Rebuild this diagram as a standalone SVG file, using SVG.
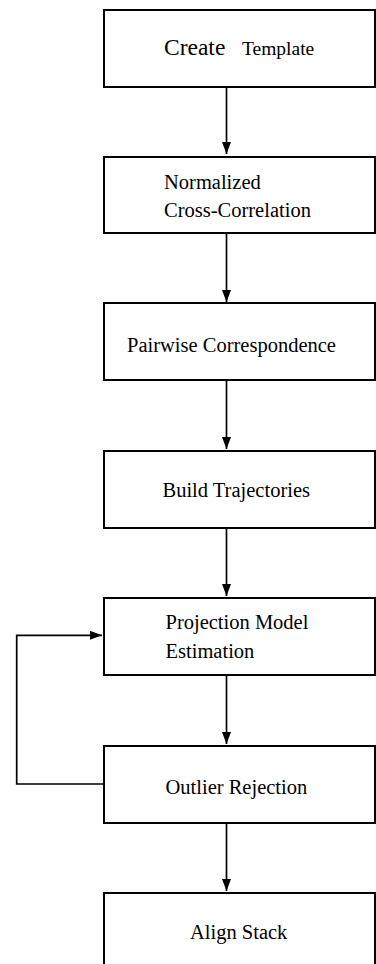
<svg xmlns="http://www.w3.org/2000/svg" width="376" height="964" viewBox="0 0 376 964">
<style>
.box{fill:#fff;stroke:#000;stroke-width:2}
.t{font-family:'Liberation Serif','Times New Roman',serif;font-size:20.5px;fill:#000}
.c{fill:none;stroke:#000;stroke-width:1.7}
</style>
<defs>
<marker id="ah" viewBox="0 0 12 9" refX="12" refY="4.5" markerWidth="12" markerHeight="9" markerUnits="userSpaceOnUse" orient="auto">
<path d="M0,0 L12,4.5 L0,9 Z" fill="#000"/>
</marker>
</defs>
<rect width="376" height="964" fill="#fff"/>
<g id="connectors">
<line class="c" x1="226.5" y1="87" x2="226.5" y2="154" marker-end="url(#ah)"/>
<line class="c" x1="226.5" y1="233" x2="226.5" y2="302" marker-end="url(#ah)"/>
<line class="c" x1="226.5" y1="380" x2="226.5" y2="449" marker-end="url(#ah)"/>
<line class="c" x1="226.5" y1="528" x2="226.5" y2="596" marker-end="url(#ah)"/>
<line class="c" x1="226.5" y1="675" x2="226.5" y2="744" marker-end="url(#ah)"/>
<line class="c" x1="226.5" y1="823" x2="226.5" y2="891" marker-end="url(#ah)"/>
<polyline class="c" points="104,784 16.7,784 16.7,635.3 102,635.3" marker-end="url(#ah)"/>
</g>
<g id="create-template">
<rect class="box" x="104" y="10" width="271" height="77"/>
<text class="t" y="55"><tspan x="164" font-size="23.5">Create</tspan><tspan x="242" font-size="19.5">Template</tspan></text>
</g>
<g id="ncc">
<rect class="box" x="104" y="157" width="271" height="76"/>
<text class="t" x="164" y="188.5">Normalized</text>
<text class="t" x="164" y="217">Cross-Correlation</text>
</g>
<g id="pairwise">
<rect class="box" x="104" y="303" width="271" height="77"/>
<text class="t" x="127" y="352">Pairwise Correspondence</text>
</g>
<g id="build">
<rect class="box" x="104" y="451" width="271" height="77"/>
<text class="t" x="162.5" y="497">Build Trajectories</text>
</g>
<g id="projection">
<rect class="box" x="104" y="598" width="271" height="77"/>
<text class="t" x="165.5" y="629">Projection Model</text>
<text class="t" x="165.5" y="658">Estimation</text>
</g>
<g id="outlier">
<rect class="box" x="104" y="746" width="271" height="77"/>
<text class="t" x="165.5" y="794">Outlier Rejection</text>
</g>
<g id="align">
<rect class="box" x="104" y="893" width="271" height="72"/>
<text class="t" x="190" y="938.5">Align Stack</text>
</g>
</svg>
